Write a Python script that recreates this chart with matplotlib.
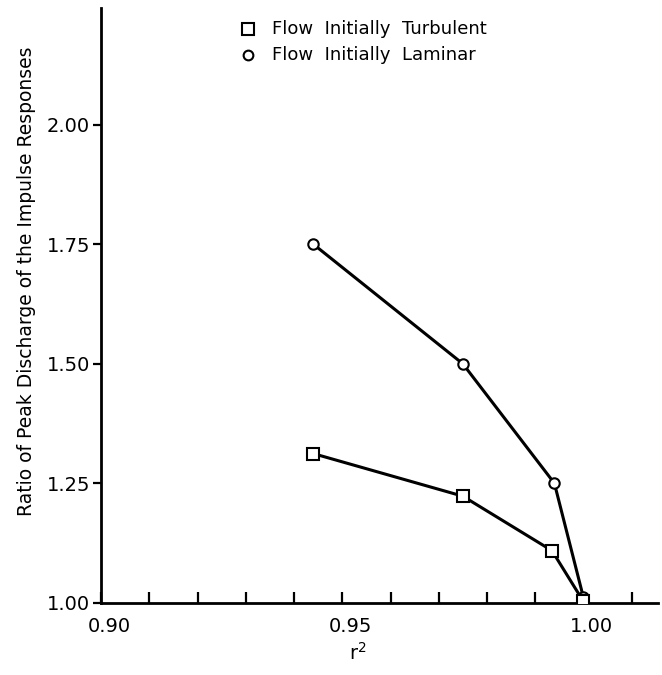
import matplotlib
matplotlib.use('Agg')
import matplotlib.pyplot as plt
import matplotlib.transforms as mtransforms
import numpy as np

# values
r2_turbulent = [0.944, 0.975, 0.9935, 1.000]
ratio_turbulent = [1.312, 1.223, 1.109, 1.003]
r2_laminar = [0.944, 0.975, 0.994, 1.000]
ratio_laminar = [1.750, 1.500, 1.250, 1.012]

x_ticks = [0.90, 0.91, 0.92, 0.93, 0.94, 0.95, 0.96, 0.97, 0.98, 0.99, 1.00, 1.01]
x_labeled = {0.90: '0.90', 0.95: '0.95', 1.00: '1.00'}
y_ticks = [1.00, 1.25, 1.50, 1.75, 2.00]
y_ticklabels = ['1.00', '1.25', '1.50', '1.75', '2.00']


def main():
    plt.rcParams['font.family'] = ['DejaVu Sans']
    fig = plt.figure(figsize=(6.62, 6.75), dpi=100)
    ax = fig.add_axes([0.153, 0.107, 0.841, 0.881])

    ax.plot(r2_laminar, ratio_laminar, color='black', lw=2.2, marker='o',
            ms=7.5, mfc='white', mec='black', mew=1.5, zorder=3)
    ax.plot(r2_turbulent, ratio_turbulent, color='black', lw=2.2, marker='s',
            ms=8.5, mfc='white', mec='black', mew=1.5, zorder=3)

    ax.set_xlim(0.90, 1.0155)
    ax.set_ylim(1.00, 2.244)

    for side in ('top', 'right'):
        ax.spines[side].set_visible(False)
    for side in ('left', 'bottom'):
        ax.spines[side].set_linewidth(2.0)

    ax.set_xticks(x_ticks)
    ax.set_xticklabels([x_labeled.get(round(v, 2), '') for v in x_ticks])
    ax.set_yticks(y_ticks)
    ax.set_yticklabels(y_ticklabels)
    ax.tick_params(axis='x', direction='in', length=8, width=1.6,
                   labelsize=14, pad=10)
    ax.tick_params(axis='y', direction='out', length=6, width=1.6,
                   labelsize=14, pad=2)

    # the hand lettering sits a little right of each tick
    shift = mtransforms.ScaledTranslation(8 / 100, 0, fig.dpi_scale_trans)
    for lab in ax.get_xticklabels():
        lab.set_transform(lab.get_transform() + shift)

    ax.set_xlabel('r$^2$', fontsize=14, labelpad=0)
    ax.xaxis.set_label_coords(0.46, -0.065)
    ax.set_ylabel('Ratio of Peak Discharge of the Impulse Responses',
                  fontsize=13.5, labelpad=10)
    ax.yaxis.set_label_coords(-0.118, 0.54)

    # legend drawn as markers + text, like the original lettering
    ax.plot([0.9305], [2.200], marker='s', ms=8, mfc='white', mec='black',
            mew=1.5, ls='none', clip_on=False)
    ax.plot([0.9305], [2.146], marker='o', ms=7, mfc='white', mec='black',
            mew=1.5, ls='none', clip_on=False)
    ax.text(0.9355, 2.200, 'Flow  Initially  Turbulent', fontsize=13,
            va='center', ha='left')
    ax.text(0.9355, 2.146, 'Flow  Initially  Laminar', fontsize=13,
            va='center', ha='left')

    fig.savefig('out.png', dpi=100, facecolor='white')
    plt.close('all')


if __name__ == '__main__':
    main()
